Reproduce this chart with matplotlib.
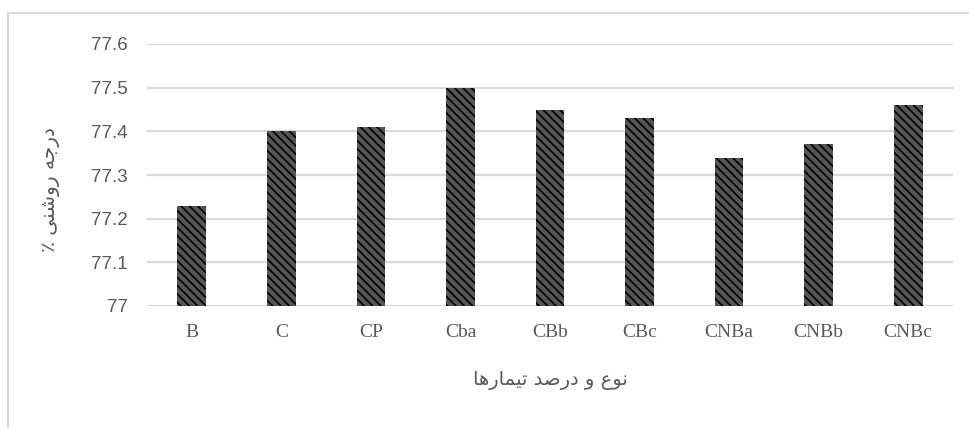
import matplotlib
matplotlib.use('Agg')
import matplotlib.pyplot as plt
from matplotlib.patches import Rectangle
import numpy as np

categories = ['B', 'C', 'CP', 'Cba', 'CBb', 'CBc', 'CNBa', 'CNBb', 'CNBc']
values = [77.23, 77.40, 77.41, 77.50, 77.45, 77.43, 77.34, 77.37, 77.46]
yticks = [77, 77.1, 77.2, 77.3, 77.4, 77.5, 77.6]
ytick_labels = ['77', '77.1', '77.2', '77.3', '77.4', '77.5', '77.6']
xlabel = 'نوع و درصد تیمارها'
ylabel = 'درجه روشنی ٪'

# minimal persian shaping: presentation forms (isol, fina, init, medi)
forms = {
    'ا': ('\uFE8D', '\uFE8E', None, None),
    'د': ('\uFEA9', '\uFEAA', None, None),
    'ر': ('\uFEAD', '\uFEAE', None, None),
    'و': ('\uFEED', '\uFEEE', None, None),
    'ت': ('\uFE95', '\uFE96', '\uFE97', '\uFE98'),
    'ج': ('\uFE9D', '\uFE9E', '\uFE9F', '\uFEA0'),
    'ش': ('\uFEB5', '\uFEB6', '\uFEB7', '\uFEB8'),
    'ص': ('\uFEB9', '\uFEBA', '\uFEBB', '\uFEBC'),
    'ع': ('\uFEC9', '\uFECA', '\uFECB', '\uFECC'),
    'م': ('\uFEE1', '\uFEE2', '\uFEE3', '\uFEE4'),
    'ن': ('\uFEE5', '\uFEE6', '\uFEE7', '\uFEE8'),
    'ه': ('\uFEE9', '\uFEEA', '\uFEEB', '\uFEEC'),
    'ی': ('\uFBFC', '\uFBFD', '\uFBFE', '\uFBFF'),
}


def shape(text):
    out = []
    for i, ch in enumerate(text):
        if ch not in forms:
            out.append(ch)
            continue
        prev = text[i - 1] if i > 0 else ''
        nxt = text[i + 1] if i + 1 < len(text) else ''
        join_prev = prev in forms and forms[prev][2] is not None
        join_next = nxt in forms and forms[ch][2] is not None
        f = forms[ch]
        if join_prev and join_next:
            out.append(f[3])
        elif join_prev:
            out.append(f[1])
        elif join_next:
            out.append(f[2])
        else:
            out.append(f[0])
    return ''.join(reversed(out))


plt.rcParams['hatch.linewidth'] = 1.2
plt.rcParams['hatch.color'] = 'black'

fig = plt.figure(figsize=(9.7, 4.28), dpi=100)
ax = fig.add_axes([147 / 970, 1 - 306 / 428, 806 / 970, 262 / 428])

x = np.arange(len(categories))
ax.bar(x, values, width=0.32, color='#555555', edgecolor='black',
       hatch='\\\\\\\\', linewidth=0, zorder=3)

ax.set_xlim(-0.5, len(categories) - 0.5)
ax.set_ylim(77, 77.6)
ax.set_yticks(yticks)
ax.set_yticklabels(ytick_labels, fontsize=13.5, color='#595959',
                   family='Liberation Sans')
ax.set_xticks(x)
ax.set_xticklabels(categories, fontsize=14, color='#595959',
                   family='Liberation Serif')
ax.tick_params(axis='both', length=0)
ax.tick_params(axis='y', pad=14)
ax.tick_params(axis='x', pad=13)
ax.grid(axis='y', color='#d9d9d9', linewidth=1.6, zorder=0)
for s in ax.spines.values():
    s.set_visible(False)

fig.text(550 / 970, 1 - 380 / 428, shape(xlabel), ha='center', va='center',
         fontsize=14, color='#595959', family=['DejaVu Sans'])
fig.text(51 / 970, 1 - 190 / 428, shape(ylabel), ha='center', va='center',
         rotation=90, fontsize=14.5, color='#595959', family=['DejaVu Sans'])

fig.patches.append(Rectangle((8 / 970, -0.05), 1.05, 1 - 13 / 428 + 0.05,
                             transform=fig.transFigure, fill=False,
                             edgecolor='#d9d9d9', linewidth=1.5))

fig.savefig('out.png', dpi=100)
